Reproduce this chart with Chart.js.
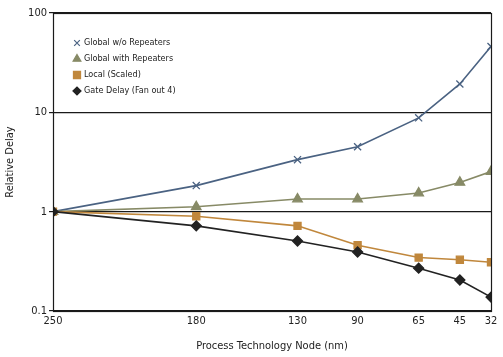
<!DOCTYPE html>
<html>
<head>
<meta charset="utf-8">
<script src="https://cdn.jsdelivr.net/npm/chart.js@4.4.1/dist/chart.umd.min.js"></script>
<style>
html,body{margin:0;padding:0;background:#fff;}
#wrap{width:503px;height:357px;position:relative;}
</style>
</head>
<body>
<div id="wrap"><canvas id="c"></canvas></div>
<script>
// Data
const nodeLabels = ['250','180','130','90','65','45','32'];
const nodeAxis = [250, 178.7, 128.3, 98.4, 68, 47.5, 32]; // x-axis value where each node sits
const globalNoRep = [1, 1.83, 3.34, 4.5, 8.8, 19.3, 46];
const globalRep = [1, 1.12, 1.34, 1.34, 1.54, 1.97, 2.53];
const localScaled = [1, 0.9, 0.72, 0.46, 0.345, 0.328, 0.31];
const gateDelay = [1, 0.72, 0.507, 0.393, 0.27, 0.205, 0.138];
const yTicks = [0.1, 1, 10, 100];
const yTickLabels = ['0.1', '1', '10', '100'];

const FONT = '"DejaVu Sans Condensed", "DejaVu Sans", sans-serif';
const pts = arr => arr.map((v, i) => ({x: nodeAxis[i], y: v}));

const series = [
  {label: 'Global w/o Repeaters', data: globalNoRep, color: '#4a6282', style: 'crossRot', r: 5},
  {label: 'Global with Repeaters', data: globalRep, color: '#878a66', style: 'triangle', r: 5.5},
  {label: 'Local (Scaled)', data: localScaled, color: '#c0873c', style: 'rect', r: 5},
  {label: 'Gate Delay (Fan out 4)', data: gateDelay, color: '#222222', style: 'rectRot', r: 5}
];

const frame = {
  id: 'frame',
  afterDatasetsDraw(chart) {
    const ctx = chart.ctx, a = chart.chartArea;
    ctx.save();
    ctx.strokeStyle = '#1a1a1a';
    ctx.lineWidth = 1.2;
    ctx.strokeRect(Math.round(a.left) + 0.5, Math.round(a.top) + 0.5, Math.round(a.right - a.left), Math.round(a.bottom - a.top));
    // legend
    ctx.font = '9px ' + FONT;
    ctx.textBaseline = 'middle';
    ctx.textAlign = 'left';
    series.forEach((s, i) => {
      const y = a.top + 30 + i * 16;
      const x = a.left + 24;
      ctx.fillStyle = s.color;
      ctx.strokeStyle = s.color;
      ctx.lineWidth = 1.2;
      const small = s.style === 'triangle' ? 4.5 : (s.style === 'rect' ? 5 : 4);
      Chart.helpers.drawPoint(ctx, {pointStyle: s.style, radius: small, borderWidth: 1.2, rotation: 0}, x, y);
      ctx.fillStyle = '#222';
      ctx.fillText(s.label, x + 7, y);
    });
    ctx.restore();
  }
};

new Chart(document.getElementById('c'), {
  type: 'line',
  data: {
    datasets: series.map(s => ({
      label: s.label,
      data: pts(s.data),
      borderColor: s.color,
      backgroundColor: s.color,
      pointStyle: s.style,
      pointRadius: s.r,
      pointBorderWidth: 1.3,
      borderWidth: 1.6,
      tension: 0
    })).reverse()
  },
  options: {
    responsive: true,
    maintainAspectRatio: false,
    animation: false,
    layout: {padding: {top: 13, right: 12, left: 0, bottom: 0}},
    plugins: {legend: {display: false}, tooltip: {enabled: false}},
    scales: {
      x: {
        type: 'linear',
        reverse: true,
        min: 32,
        max: 250,
        afterBuildTicks: sc => { sc.ticks = nodeAxis.map(v => ({value: v})); },
        afterFit: sc => { sc.height = 46; },
        ticks: {
          autoSkip: false,
          maxRotation: 0,
          padding: 4,
          color: '#222',
          font: {family: FONT, size: 11},
          callback: (v, i) => nodeLabels[i]
        },
        grid: {display: false, drawTicks: false},
        border: {display: false},
        title: {display: true, text: 'Process Technology Node (nm)', color: '#222', font: {family: FONT, size: 11}, padding: {top: 7}}
      },
      y: {
        type: 'logarithmic',
        min: 0.1,
        max: 100,
        afterBuildTicks: sc => { sc.ticks = yTicks.map(v => ({value: v})); },
        afterFit: sc => { sc.width = 53; },
        ticks: {
          color: '#222',
          padding: 2,
          font: {family: FONT, size: 11},
          callback: (v, i) => yTickLabels[i]
        },
        grid: {color: '#1a1a1a', lineWidth: 1.2, tickLength: 4},
        border: {display: false},
        title: {display: true, text: 'Relative Delay', color: '#222', font: {family: FONT, size: 11}, padding: {bottom: 5}}
      }
    }
  },
  plugins: [frame]
});
</script>
</body>
</html>
